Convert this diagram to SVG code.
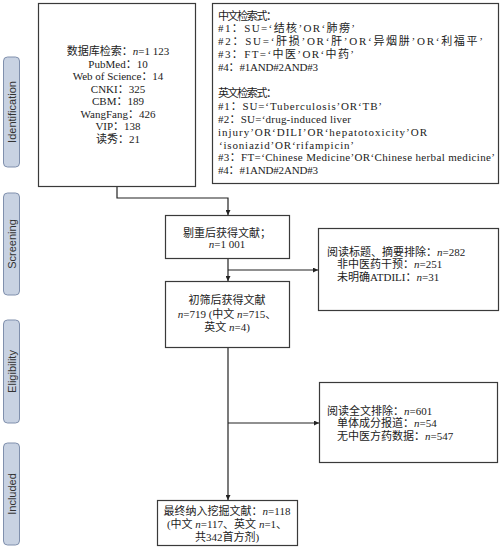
<svg xmlns="http://www.w3.org/2000/svg" width="500" height="549" viewBox="0 0 500 549">
<style>
.box{fill:#fff;stroke:#3a3a3a;stroke-width:1.2}
.pill{fill:#c8d2e2;stroke:#8090ad;stroke-width:1}
.pt{font-family:"Liberation Sans",Arial,sans-serif;font-size:11px;fill:#333}
.t{font-family:"Liberation Serif","Noto Sans CJK SC",serif;font-size:11px;fill:#222}
.c{text-anchor:middle}
.i{font-style:italic}
.ln{fill:none;stroke:#222;stroke-width:1.2}
</style>
<defs>
<marker id="ah" viewBox="0 0 10 10" refX="10" refY="5" markerWidth="5" markerHeight="5" orient="auto" markerUnits="userSpaceOnUse">
<path d="M0,0 L10,5 L0,10 z" fill="#222"/>
</marker>
</defs>
<rect width="500" height="549" fill="#fff"/>

<g id="stage-identification">
<rect class="pill" x="3.5" y="57" width="16" height="110" rx="4"/>
<text class="pt c" transform="translate(15.5,112) rotate(-90)">Identification</text>
</g>
<g id="stage-screening">
<rect class="pill" x="3.5" y="193" width="16" height="102" rx="4"/>
<text class="pt c" transform="translate(15.5,244) rotate(-90)">Screening</text>
</g>
<g id="stage-eligibility">
<rect class="pill" x="3.5" y="320" width="16" height="103" rx="4"/>
<text class="pt c" transform="translate(15.5,371.5) rotate(-90)">Eligibility</text>
</g>
<g id="stage-included">
<rect class="pill" x="3.5" y="443" width="16" height="102" rx="4"/>
<text class="pt c" transform="translate(15.5,494) rotate(-90)">Included</text>
</g>

<g id="node-databases">
<rect class="box" x="38.5" y="3.5" width="157" height="183"/>
<text class="t c" x="118" y="55">数据库检索：<tspan class="i">n</tspan>=1 123</text>
<text class="t c" x="118" y="67.5">PubMed：10</text>
<text class="t c" x="118" y="80">Web of Science：14</text>
<text class="t c" x="118" y="92.5">CNKI：325</text>
<text class="t c" x="118" y="105">CBM：189</text>
<text class="t c" x="118" y="117.5">WangFang：426</text>
<text class="t c" x="118" y="130">VIP：138</text>
<text class="t c" x="118" y="142.5">读秀：21</text>
</g>

<g id="node-search">
<rect class="box" x="212.5" y="3.5" width="286" height="180"/>
<text class="t" x="218" y="19.5" textLength="59" lengthAdjust="spacing">中文检索式：</text>
<text class="t" x="218" y="32.4" textLength="137" lengthAdjust="spacing">#1：SU=‘结核’OR‘肺痨’</text>
<text class="t" x="218" y="45.3" textLength="265" lengthAdjust="spacing">#2：SU=‘肝损’OR‘肝’OR‘异烟肼’OR‘利福平’</text>
<text class="t" x="218" y="58.2" textLength="136" lengthAdjust="spacing">#3：FT=‘中医’OR‘中药’</text>
<text class="t" x="218" y="71.1" textLength="100" lengthAdjust="spacing">#4：#1AND#2AND#3</text>
<text class="t" x="218" y="96.9" textLength="59" lengthAdjust="spacing">英文检索式：</text>
<text class="t" x="218" y="109.8" textLength="164" lengthAdjust="spacing">#1：SU=‘Tuberculosis’OR‘TB’</text>
<text class="t" x="218" y="122.7" textLength="133" lengthAdjust="spacing">#2：SU=‘drug-induced liver</text>
<text class="t" x="218" y="135.6" textLength="209" lengthAdjust="spacing">injury’OR‘DILI’OR‘hepatotoxicity’OR</text>
<text class="t" x="219" y="148.5" textLength="135" lengthAdjust="spacing">‘isoniazid’OR‘rifampicin’</text>
<text class="t" x="218" y="161.4" textLength="277" lengthAdjust="spacing">#3：FT=‘Chinese Medicine’OR‘Chinese herbal medicine’</text>
<text class="t" x="218" y="174.3" textLength="100" lengthAdjust="spacing">#4：#1AND#2AND#3</text>
</g>

<g id="node-dedup">
<rect class="box" x="165.5" y="215.5" width="124" height="43"/>
<text class="t c" x="227" y="237">剔重后获得文献；</text>
<text class="t c" x="227" y="248"><tspan class="i">n</tspan>=1 001</text>
</g>

<g id="node-excl1">
<rect class="box" x="318.5" y="228.5" width="180" height="82"/>
<text class="t" x="327" y="255.5">阅读标题、摘要排除：<tspan class="i">n</tspan>=282</text>
<text class="t" x="337" y="268">非中医药干预：<tspan class="i">n</tspan>=251</text>
<text class="t" x="337" y="281">未明确ATDILI：<tspan class="i">n</tspan>=31</text>
</g>

<g id="node-screened">
<rect class="box" x="165.5" y="281.5" width="124" height="66"/>
<text class="t c" x="227" y="304">初筛后获得文献</text>
<text class="t c" x="227" y="317.5"><tspan class="i">n</tspan>=719 (中文 <tspan class="i">n</tspan>=715、</text>
<text class="t c" x="227" y="330.5">英文 <tspan class="i">n</tspan>=4)</text>
</g>

<g id="node-excl2">
<rect class="box" x="319.5" y="382.5" width="178" height="80"/>
<text class="t" x="327" y="415">阅读全文排除：<tspan class="i">n</tspan>=601</text>
<text class="t" x="337" y="427">单体成分报道：<tspan class="i">n</tspan>=54</text>
<text class="t" x="337" y="440">无中医方药数据：<tspan class="i">n</tspan>=547</text>
</g>

<g id="node-included">
<rect class="box" x="157.5" y="500.5" width="140" height="45"/>
<text class="t c" x="227" y="515">最终纳入挖掘文献：<tspan class="i">n</tspan>=118</text>
<text class="t c" x="227" y="528">(中文 <tspan class="i">n</tspan>=117、英文 <tspan class="i">n</tspan>=1、</text>
<text class="t c" x="227" y="541">共342首方剂)</text>
</g>

<g id="connectors">
<path class="ln" d="M117,187 V198 H228 V215" marker-end="url(#ah)"/>
<path class="ln" d="M228,259 V281" marker-end="url(#ah)"/>
<path class="ln" d="M228,270 H318" marker-end="url(#ah)"/>
<path class="ln" d="M228,348 V500" marker-end="url(#ah)"/>
<path class="ln" d="M228,423 H319" marker-end="url(#ah)"/>
</g>
</svg>
